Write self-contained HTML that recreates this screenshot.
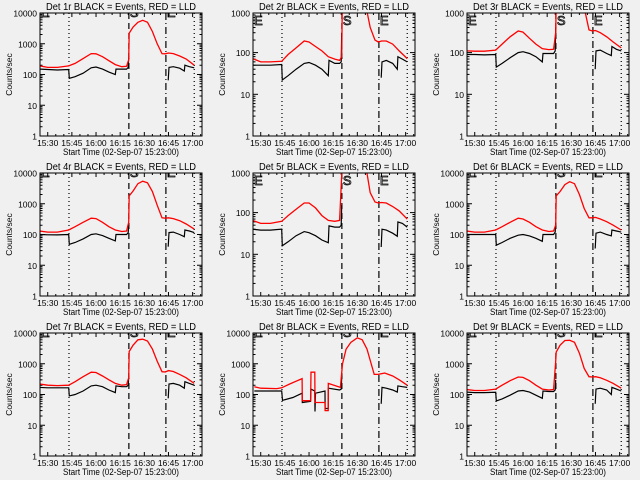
<!DOCTYPE html>
<html><head><meta charset="utf-8"><style>
html,body{margin:0;padding:0;background:#f0f0f0;}
svg{display:block;font-family:"Liberation Sans",sans-serif;}
</style></head><body>
<svg id="c" width="640" height="480" viewBox="0 0 640 480"></svg>
<script>
// shared time grids (minutes after 15:00)
const redT = [25,30,36,43,47,52,57,60,64,68,72,76,79,80.3,80.6,83,86,89,92,95,98,101,103,105,108,112,116,121];
const blkPreT = [25,30,36,43,43.4,47,52,57,60,64,68,72,72.4,76,79,80,80.3];
const blkPostT = [104.8,105.3,108,112,114.8,115.2,118,121];
const xTickLabels = ["15:30","15:45","16:00","16:15","16:30","16:45","17:00"];
const xTickTimes = [30,45,60,75,90,105,120];
const vLineTimes = [43.2,80.4,103.4,121];
// panel values
const red1 = [190,170,170,190,230,330,480,470,380,280,210,180,185,300,2200,3500,5000,5800,5000,2500,1000,480,470,500,480,400,320,200];
const blk1 = [150,145,140,145,75,85,110,165,175,150,120,100,150,150,150,170,350];
const post1 = [65,170,180,160,130,200,180,165];
const red2 = [72,60,60,62,90,130,190,180,140,110,80,70,65,80,900,3000,5000,6000,5000,1500,400,200,180,190,190,160,110,72];
const blk2 = [50,50,50,52,22,28,40,55,58,50,40,28,65,55,55,60,300];
const post2 = [25,60,65,55,40,80,70,60];
const red3 = [110,108,108,115,160,240,330,310,220,160,125,118,120,300,1500,3000,5000,6000,5000,3000,1200,350,330,340,300,240,180,130];
const blk3 = [90,90,88,90,45,55,75,100,105,95,80,60,95,95,95,110,400];
const post3 = [40,110,115,95,85,140,120,110];
const red4 = [130,120,120,140,180,250,340,330,250,180,140,125,130,250,1800,2600,4500,5400,4800,2500,900,350,340,350,330,280,220,150];
const blk4 = [100,98,97,100,48,55,72,100,105,92,75,62,100,100,100,115,200];
const post4 = [40,115,120,100,85,140,130,115];
const red5 = [65,55,55,62,85,120,170,170,130,85,65,62,65,800,3000,5000,6000,6000,5000,1500,300,180,170,175,170,140,110,70];
const blk5 = [40,38,38,40,16,20,28,35,33,28,22,19,48,45,45,50,150];
const post5 = [15,40,38,32,27,60,55,45];
const red6 = [130,120,120,140,180,250,340,320,250,180,140,125,130,200,1800,2500,4200,5200,4500,2000,700,350,350,360,320,260,200,140];
const blk6 = [100,100,100,100,45,55,75,95,100,90,75,60,100,100,100,120,250];
const post6 = [35,110,120,100,90,140,130,120];
const red7 = [220,200,195,200,260,380,530,520,400,300,230,200,210,350,2500,4000,6000,6300,5500,3000,1200,550,540,600,560,450,350,230];
const blk7 = [170,165,165,165,90,100,130,190,200,180,140,115,190,180,180,200,350];
const post7 = [75,220,230,200,160,260,230,200];
const red9 = [145,135,135,150,200,280,370,360,280,200,150,140,145,1200,2400,4000,5700,5800,5000,2200,700,380,370,380,350,290,230,160];
const blk9 = [120,115,115,118,62,72,95,130,135,120,95,75,130,125,125,140,300];
const post9 = [50,150,160,140,100,170,150,130];
// panel 8 has its own time grid
const red8T = [26,30,40,43,48,55.7,55.8,61,61.2,63.6,63.7,69.9,70,71.9,72,79.5,80.8,83,86,90,93,96,100.5,103,107,112,116,121];
const red8 = [180,160,155,165,220,330,63,63,530,530,55,55,30,30,230,170,1000,3000,5000,7000,6000,3000,450,450,500,400,300,200];
const blk8T = [26,43,43.5,50,55.7,55.8,61,61.2,63.5,63.7,64,69.9,70,71.9,72,79,80,80.3];
const blk8 = [130,130,65,80,110,55,60,150,130,28,110,130,35,35,160,140,150,350];
const post8 = [50,170,160,140,120,190,180,170];

const panelRed = [red1,red2,red3,red4,red5,red6,red7,red8,red9];
const panelBlk = [blk1,blk2,blk3,blk4,blk5,blk6,blk7,blk8,blk9];
const panelPost = [post1,post2,post3,post4,post5,post6,post7,post8,post9];
const panelDecades = [4,2.95,2.95,4,2.95,4,4,4,4];

const NS="http://www.w3.org/2000/svg";
const svg=document.getElementById('c');
function mk(tag,attrs,parent){const e=document.createElementNS(NS,tag);for(const k in attrs)e.setAttribute(k,attrs[k]);(parent||svg).appendChild(e);return e;}
const colX=[0,213,427], rowY=[0,160,320];
const W=162, TOP=13, BOT=136, T0=25.2, PXM=1.61;

for(let p=0;p<9;p++){
  const ox=colX[p%3], oy=rowY[Math.floor(p/3)];
  const L=ox+40, R=L+W, T=oy+TOP, B=oy+BOT;
  const dec=panelDecades[p];
  const xs=t=>L+(t-T0)*PXM;
  const ys=v=>B-(Math.log10(v))/dec*(B-T);
  const g=mk('g',{});
  
  
  const cid='clip'+p;
  const cp=mk('clipPath',{id:cid},g); mk('rect',{x:L,y:T,width:W,height:B-T},cp);
  const tt=mk('text',{x:L+W/2,y:oy+10,'text-anchor':'middle','font-size':10,textLength:150,lengthAdjust:'spacingAndGlyphs',fill:'#000'},g);
  tt.textContent='Det '+(p+1)+'r BLACK = Events, RED = LLD';
  
  
  const labs=dec>3.5?["1","10","100","1000","10000"]:["1","10","100","1000"];
  const vals=dec>3.5?[1,10,100,1000,10000]:[1,10,100,Math.pow(10,dec)];
  for(let i=0;i<labs.length;i++){
    const y=ys(vals[i]);
    const lt=mk('text',{x:L-3,y:y+3.5,'text-anchor':'end','font-size':8.5,fill:'#000'},g);
    lt.textContent=labs[i];
    
    
  }
  for(let d=0;d<Math.ceil(dec);d++){
    for(let m=1;m<10;m++){
      const v=Math.pow(10,d)*m; if(Math.log10(v)>dec)break;
      const y=ys(v), len=m===1?5:2.5;
      mk('line',{x1:L,x2:L+len,y1:y,y2:y,stroke:'#000','stroke-width':1},g);
      mk('line',{x1:R,x2:R-len,y1:y,y2:y,stroke:'#000','stroke-width':1},g);
    }
  }
  for(let t=25;t<=125;t+=5){
    if(t<T0)continue;
    const x=xs(t), major=(t%15===0), len=major?4:2;
    mk('line',{x1:x,x2:x,y1:B,y2:B-len,stroke:'#000','stroke-width':1},g);
    mk('line',{x1:x,x2:x,y1:T,y2:T+len,stroke:'#000','stroke-width':1},g);
  }
  for(let i=0;i<xTickLabels.length;i++){
    const xt=mk('text',{x:xs(xTickTimes[i]),y:B+10,'text-anchor':'middle','font-size':8.5,fill:'#000'},g);
    xt.textContent=xTickLabels[i];
    
    
  }
  const xa=mk('text',{x:L+81,y:B+19,'text-anchor':'middle','font-size':9.5,textLength:116,lengthAdjust:'spacingAndGlyphs',fill:'#000'},g);
  xa.textContent='Start Time (02-Sep-07 15:23:00)';
  
  
  const ya=mk('text',{x:0,y:0,'text-anchor':'middle','font-size':8.5,fill:'#000',transform:`translate(${ox+12},${(T+B)/2}) rotate(-90)`},g);
  ya.textContent='Counts/sec';
  
  
  const dashes=['1,3','6,4','7,3,1,3','1,3'];
  for(let i=0;i<4;i++){
    const vl=mk('line',{x1:xs(vLineTimes[i]),x2:xs(vLineTimes[i]),y1:T,y2:B,stroke:'#000','stroke-width':1.2,'stroke-dasharray':dashes[i]},g);
    
    
  }
  const cg=mk('g',{'clip-path':`url(#${cid})`},g);
  const by=dec>3.5?T+4:T+12;
  const letters=[['E',L+1],['S',xs(vLineTimes[1])+1],['E',xs(vLineTimes[2])+1]];
  letters.forEach(([c,x])=>{
    const lt=mk('text',{x:x,y:by,'font-size':13,fill:'none',stroke:'#000','stroke-width':0.8},cg);
    lt.textContent=c;
    
    
  });
  const rt=p===7?red8T:redT, bt=p===7?blk8T:blkPreT;
  const rv=panelRed[p], bv=panelBlk[p], pv=panelPost[p];
  const pts=(ts,vs)=>ts.map((t,i)=>xs(t).toFixed(1)+','+ys(vs[i]).toFixed(1)).join(' ');
  const b1=mk('polyline',{points:pts(bt,bv),fill:'none',stroke:'#000','stroke-width':1.2},cg);
  
  
  const b2=mk('polyline',{points:pts(blkPostT,pv),fill:'none',stroke:'#000','stroke-width':1.2},cg);
  
  
  const r1=mk('polyline',{points:pts(rt,rv),fill:'none',stroke:'#ff0000','stroke-width':1.3},cg);
  
  
  const bx=mk('rect',{x:L,y:T,width:W,height:B-T,fill:'none',stroke:'#000','stroke-width':1},g);
  
  
}
</script>
</body></html>
